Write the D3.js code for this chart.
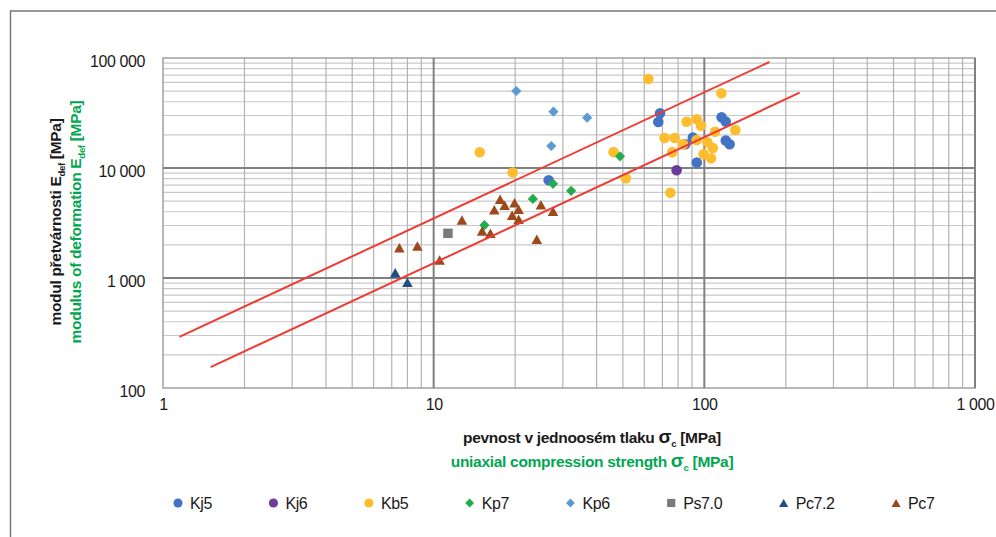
<!DOCTYPE html>
<html>
<head>
<style>
  body { margin: 0; background: #fff; }
  svg { font-family: "Liberation Sans", Arial, sans-serif; }
  .tick text { fill: #1a1a1a; font-size: 16px; letter-spacing: -0.4px; }
  .legend text { fill: #1a1a1a; font-size: 16px; letter-spacing: -0.4px; }
  .title { font-weight: bold; font-size: 15.5px; letter-spacing: -0.3px; }
</style>
</head>
<body>
<script src="https://d3js.org/d3.v7.min.js"></script>
<script>
// values: [sigma_c MPa, E_def MPa]
const kj5 = [[68.6, 31400], [67.6, 26200], [115.8, 28900], [120, 26400], [120, 17800],
  [124, 16450], [90.7, 18930], [85.1, 16450], [93.8, 11220], [26.6, 7730]];
const kj6 = [[79.0, 9550]];
const kb5 = [[62.1, 64400], [115.6, 47860], [86.0, 26360], [93.7, 27720], [97.2, 24200],
  [71.3, 18750], [77.7, 18750], [83.5, 16450], [76.1, 13930], [93.7, 17970], [102.6, 17160],
  [107.5, 15200], [99.4, 13360], [105.9, 12250], [109.5, 21380], [130.2, 22150],
  [46.2, 13970], [51.3, 8060], [19.6, 9100], [74.9, 5965], [14.8, 13890]];
const kp7 = [[48.8, 12770], [27.6, 7180], [32.2, 6200], [23.25, 5230], [15.4, 3020]];
const kp6 = [[20.2, 50100], [27.7, 32500], [36.9, 28650], [27.2, 15850]];
const ps70 = [[11.29, 2550]];
const pc72 = [[7.21, 1117], [8.0, 914]];
const pc7 = [[17.6, 5205], [18.3, 4580], [16.75, 4180], [19.9, 4835], [20.6, 4220],
  [19.5, 3715], [20.6, 3418], [24.9, 4640], [27.6, 4040], [24.05, 2253], [12.72, 3367],
  [15.1, 2675], [16.2, 2550], [7.47, 1886], [8.71, 1954], [10.52, 1457]];

// boundary lines (end points)
const upperLine = [[1.15, 292], [174, 92000]];
const lowerLine = [[1.5, 155], [225, 48400]];

const seriesNames = ['Kj5', 'Kj6', 'Kb5', 'Kp7', 'Kp6', 'Ps7.0', 'Pc7.2', 'Pc7'];
const seriesData = [kj5, kj6, kb5, kp7, kp6, ps70, pc72, pc7];
const seriesColors = ['#4472c4', '#6a3d9a', '#fdbd2e', '#21ad4e', '#5b9bd5', '#7a7a7a', '#1f4e85', '#9c4a1c'];
const seriesShapes = ['circle', 'circle', 'circle', 'diamond', 'diamond', 'square', 'triangle', 'triangle'];

const xTicks = [1, 10, 100, 1000];
const yTicks = [100, 1000, 10000, 100000];

const width = 996, height = 537;

const svg = d3.select('body').append('svg')
  .attr('width', width)
  .attr('height', height);

svg.append('rect')
  .attr('x', 10.5).attr('y', 11)
  .attr('width', 1000).attr('height', 600)
  .attr('fill', '#fff')
  .attr('stroke', '#777').attr('stroke-width', 1.5);

const x = d3.scaleLog().domain([1, 1000]).range([163, 975]);
const y = d3.scaleLog().domain([100, 100000]).range([388, 58]);

const minor = d => {
  const out = [];
  for (let i = 0; i < d.length - 1; i++)
    for (let k = 2; k <= 9; k++) out.push(k * d[i]);
  return out;
};

const grid = svg.append('g');

grid.selectAll('line.hmin').data(minor(yTicks)).enter().append('line')
  .attr('x1', x(1)).attr('x2', x(1000))
  .attr('y1', d => y(d)).attr('y2', d => y(d))
  .attr('stroke', '#c9c9c9').attr('stroke-width', 1.2);

grid.selectAll('line.vmin').data(minor(xTicks)).enter().append('line')
  .attr('y1', y(100)).attr('y2', y(100000))
  .attr('x1', d => x(d)).attr('x2', d => x(d))
  .attr('stroke', '#b3b3b3').attr('stroke-width', 1.2);

grid.append('rect')
  .attr('x', x(1)).attr('y', y(100000))
  .attr('width', x(1000) - x(1)).attr('height', y(100) - y(100000))
  .attr('fill', 'none').attr('stroke', '#a0a0a0').attr('stroke-width', 1.5);

grid.selectAll('line.hmaj').data([1000, 10000]).enter().append('line')
  .attr('x1', x(1)).attr('x2', x(1000))
  .attr('y1', d => y(d)).attr('y2', d => y(d))
  .attr('stroke', '#808080').attr('stroke-width', 2);

grid.selectAll('line.vmaj').data([10, 100, 1000]).enter().append('line')
  .attr('y1', y(100)).attr('y2', y(100000))
  .attr('x1', d => x(d)).attr('x2', d => x(d))
  .attr('stroke', '#808080').attr('stroke-width', 2);

const fmt = d3.formatLocale({ decimal: ',', thousands: ' ', grouping: [3], currency: ['', ''] }).format(',d');

const yAxis = svg.append('g')
  .attr('transform', `translate(${x(1)},0)`)
  .call(d3.axisLeft(y).tickValues(yTicks).tickFormat(fmt).tickSize(0).tickPadding(18));
yAxis.select('.domain').remove();
yAxis.selectAll('text').attr('dy', '0.52em').attr('font-family', null);

const xAxis = svg.append('g')
  .attr('transform', `translate(0,${y(100)})`)
  .call(d3.axisBottom(x).tickValues(xTicks).tickFormat(fmt).tickSize(0).tickPadding(11));
xAxis.select('.domain').remove();
xAxis.selectAll('text').attr('font-family', null);

// marker shapes
const shapes = {
  circle: { type: d3.symbolCircle, size: 88 },
  square: { type: d3.symbolSquare, size: 90 },
  diamond: {
    type: { draw(ctx, size) { const r = Math.sqrt(size / 2);
      ctx.moveTo(0, -r); ctx.lineTo(r, 0); ctx.lineTo(0, r); ctx.lineTo(-r, 0); ctx.closePath(); } },
    size: 52
  },
  triangle: {
    type: { draw(ctx, size) { const w = Math.sqrt(size), h = w * 0.9;
      ctx.moveTo(0, -h / 2); ctx.lineTo(w / 2, h / 2); ctx.lineTo(-w / 2, h / 2); ctx.closePath(); } },
    size: 112
  }
};

const pts = svg.append('g');
seriesData.forEach((data, i) => {
  const s = shapes[seriesShapes[i]];
  pts.append('g').selectAll('path').data(data).enter().append('path')
    .attr('transform', d => `translate(${x(d[0])},${y(d[1])})`)
    .attr('d', d3.symbol().type(s.type).size(s.size))
    .attr('fill', seriesColors[i]);
});

const line = d3.line().x(d => x(d[0])).y(d => y(d[1]));
svg.selectAll('path.bound').data([upperLine, lowerLine]).enter().append('path')
  .attr('d', line)
  .attr('fill', 'none').attr('stroke', '#ee3b33').attr('stroke-width', 2);

// axis titles
function title(tx, ty, rot, color, main, sub, big) {
  const t = svg.append('text')
    .attr('class', 'title')
    .attr('transform', `translate(${tx},${ty}) rotate(${rot})`)
    .attr('text-anchor', 'middle')
    .attr('fill', color);
  t.append('tspan').text(main);
  if (big) t.append('tspan').text(big).attr('font-size', 19);
  t.append('tspan').text(sub).attr('font-size', 9.5).attr('dy', 4);
  t.append('tspan').text(' [MPa]').attr('dy', -4);
}

title(61, 222, -90, '#1a1a1a', 'modul přetvárnosti E', 'def');
title(81, 222, -90, '#00a650', 'modulus of deformation E', 'def');
title(592, 443, 0, '#1a1a1a', 'pevnost v jednoosém tlaku ', 'c', 'σ');
title(592, 467, 0, '#00a650', 'uniaxial compression strength ', 'c', 'σ');

// legend
const legend = svg.append('g').attr('class', 'legend');
let lx = 178;
seriesNames.forEach((name, i) => {
  const s = shapes[seriesShapes[i]];
  const g = legend.append('g').attr('transform', `translate(${lx},503)`);
  g.append('path')
    .attr('d', d3.symbol().type(s.type).size(s.size * 0.75))
    .attr('fill', seriesColors[i]);
  const t = g.append('text').attr('x', 12).attr('y', 6).text(name);
  lx += t.node().getComputedTextLength() + 73.5;
});
</script>
</body>
</html>
